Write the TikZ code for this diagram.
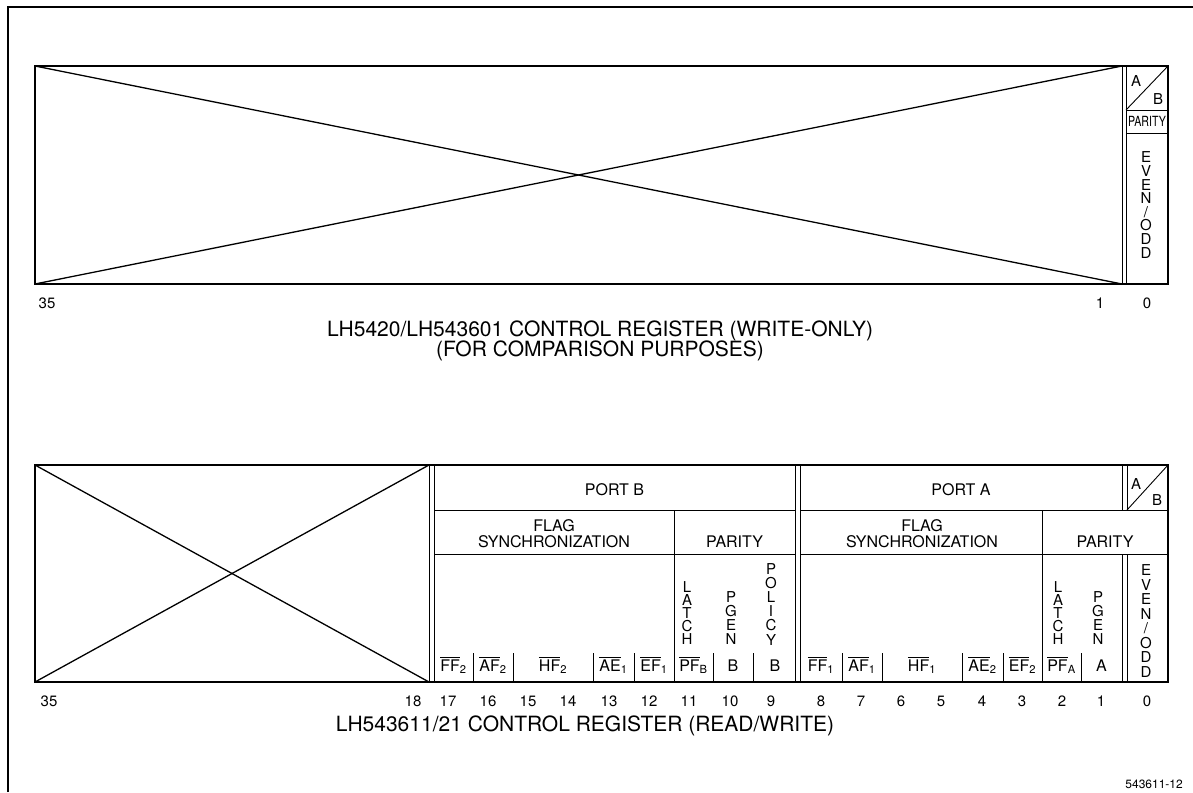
\documentclass[tikz,border=0pt]{standalone}
\usepackage{fontspec}
\setmainfont{TeX Gyre Heros}
\usepackage{amsmath}
\usepackage{graphicx}
\newcommand\olab[2]{$\overline{\text{#1}}_{\text{#2}}$}
\newcommand\vstack[5]{\foreach \c [count=\i from 0] in {#5} {\node[stk] (#1\i) at (#2,{#3+\i*#4}) {\c};}}
\begin{document}
\begin{tikzpicture}[x=1pt,y=-1pt,
  border/.style={line width=2.2pt},
  cell/.style={line width=0.9pt},
  diag/.style={line width=1.3pt},
  lbl/.style={font=\fontsize{16}{18}\selectfont, inner sep=0},
  hdr/.style={font=\fontsize{16}{16.5}\selectfont, inner sep=0, align=center},
  bitlbl/.style={font=\fontsize{16}{18}\selectfont, inner sep=0, anchor=base},
  num/.style={font=\fontsize{15}{17}\selectfont, inner sep=0, anchor=base},
  ttl/.style={font=\fontsize{21}{24}\selectfont, inner sep=0, anchor=base},
  stk/.style={font=\fontsize{15}{15}\selectfont, inner sep=0, anchor=base},
  ab/.style={font=\fontsize{15}{16}\selectfont, inner sep=0}]
\useasboundingbox (0,0) rectangle (1193,792);
% outer frame
\draw[line width=1.3pt] (8,792) -- (8,7) -- (1193,7);

% ---------- top register ----------
\coordinate (t1) at (35,66);
\coordinate (t2) at (1168,284);
\coordinate (tx1) at (1122,66);
\coordinate (tx2) at (1122,284);
\draw[diag] (t1) -- (tx2);
\draw[diag] (35,284) -- (tx1);
\draw[cell] (tx1) -- (tx2);
\draw[cell] (1126,66) -- (1126,284);
\draw[cell] (1126,110) -- (1168,110);
\draw[cell] (1126,133) -- (1168,133);
\draw[cell] (1126,110) -- (1168,66);
\draw[border] (t1) rectangle (t2);
\node[ab] (tA) at (1136,81) {A};
\node[ab] (tB) at (1158,99) {B};
\node[inner sep=0, font=\fontsize{14}{14}\selectfont] (tpar) at (1147,121.5) {\scalebox{0.76}[1]{PARITY}};
\vstack{teo}{1146}{162.8}{13.6}{E,V,E,N,/,O,D,D}
\node[num] (tn35) at (47,308) {35};
\node[num] (tn1) at (1100,308) {1};
\node[num] (tn0) at (1147,308) {0};
\node[ttl] (tt1) at (600,336) {LH5420/LH543601 CONTROL REGISTER (WRITE-ONLY)};
\node[ttl] (tt2) at (600,356) {(FOR COMPARISON PURPOSES)};

% ---------- bottom register ----------
\coordinate (b1) at (35,465);
\coordinate (b2) at (1168,682);
\draw[diag] (b1) -- (429,682);
\draw[diag] (35,682) -- (429,465);
\foreach \xx in {429,434,795,800} {\draw[cell] (\xx,465) -- (\xx,682);}
\foreach \xx in {1122,1127} {\draw[cell] (\xx,465) -- (\xx,510); \draw[cell] (\xx,554) -- (\xx,682);}
\draw[cell] (434,510) -- (795,510);
\draw[cell] (800,510) -- (1168,510);
\draw[cell] (434,554) -- (795,554);
\draw[cell] (800,554) -- (1168,554);
\draw[cell] (1127,510) -- (1168,465);
\draw[cell] (674,510) -- (674,682);
\draw[cell] (1042,510) -- (1042,682);
\foreach \xx in {473,513,593,634,713,753,842,882,962,1003,1081} {\draw[cell] (\xx,653) -- (\xx,682);}
\draw[border] (b1) rectangle (b2);

\node[lbl] (portb) at (614.5,490) {PORT B};
\node[lbl] (porta) at (961,490) {PORT A};
\node[ab] (bA) at (1136,484) {A};
\node[ab] (bB) at (1157,500) {B};
\node[hdr] (flagb) at (554,533.5) {FLAG\\SYNCHRONIZATION};
\node[hdr] (flaga) at (922,533.5) {FLAG\\SYNCHRONIZATION};
\node[lbl] (parb) at (734.5,542) {PARITY};
\node[lbl] (para) at (1105,542) {PARITY};

\vstack{latb}{687}{592.8}{12.8}{L,A,T,C,H}
\vstack{pgb}{731}{602.9}{13.7}{P,G,E,N}
\vstack{pol}{771}{574}{14.2}{P,O,L,I,C,Y}
\vstack{lata}{1058}{592.8}{12.8}{L,A,T,C,H}
\vstack{pga}{1098}{602.9}{13.7}{P,G,E,N}
\vstack{beo}{1146}{575.5}{14.5}{E,V,E,N,/,O,D,D}

% bit labels
\node[bitlbl] (l17) at (453.5,671) {\olab{FF}{2}};
\node[bitlbl] (l16) at (493,671) {\olab{AF}{2}};
\node[bitlbl] (l15) at (553,671) {\olab{HF}{2}};
\node[bitlbl] (l13) at (613.5,671) {\olab{AE}{1}};
\node[bitlbl] (l12) at (654,671) {\olab{EF}{1}};
\node[bitlbl] (l11) at (693.5,671) {\olab{PF}{B}};
\node[bitlbl] (l10) at (733,671) {B};
\node[bitlbl] (l9) at (775,671) {B};
\node[bitlbl] (l8) at (821,671) {\olab{FF}{1}};
\node[bitlbl] (l7) at (862,671) {\olab{AF}{1}};
\node[bitlbl] (l6) at (922,671) {\olab{HF}{1}};
\node[bitlbl] (l4) at (982.5,671) {\olab{AE}{2}};
\node[bitlbl] (l3) at (1022.5,671) {\olab{EF}{2}};
\node[bitlbl] (l2) at (1061.5,671) {\olab{PF}{A}};
\node[bitlbl] (l1) at (1101.5,671) {A};

% bit numbers
\node[num] (bn35) at (49,706) {35};
\node[num] (bn18) at (413,706) {18};
\foreach \n/\xx in {17/448,16/488,15/528,14/568,13/609,12/649,11/689,10/730,9/771,8/821,7/861,6/901,5/941,4/982,3/1022,2/1062,1/1101,0/1147}
  {\node[num] (bn\n) at (\xx,706) {\n};}
\node[ttl] (bt) at (585,731) {LH543611/21 CONTROL REGISTER (READ/WRITE)};
\node[inner sep=0, anchor=base east, font=\fontsize{12}{14}\selectfont] (fig) at (1183,788) {543611-12};
\end{tikzpicture}
\end{document}
